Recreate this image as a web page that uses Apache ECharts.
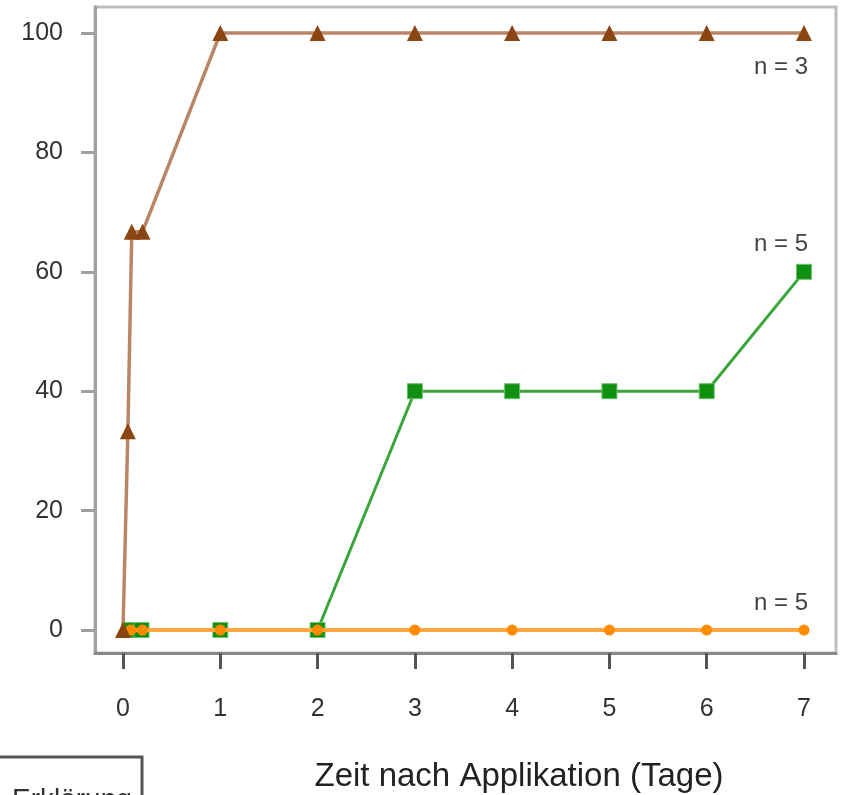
<!DOCTYPE html>
<html>
<head>
<meta charset="utf-8">
<script src="https://cdn.jsdelivr.net/npm/echarts@6/dist/echarts.min.js"></script>
<style>html,body{margin:0;padding:0;background:#fff;}#c{width:842px;height:795px;}</style>
</head>
<body>
<div id="c"></div>
<script>
// Data
const xTicks = [0, 1, 2, 3, 4, 5, 6, 7];
const yTicks = [0, 20, 40, 60, 80, 100];

const brownX = [0, 0.05, 0.09, 0.2, 1, 2, 3, 4, 5, 6, 7];
const brownY = [0, 33.3, 66.7, 66.7, 100, 100, 100, 100, 100, 100, 100];

const greenX = [0.07, 0.19, 1, 2, 3, 4, 5, 6, 7];
const greenY = [0, 0, 0, 0, 40, 40, 40, 40, 60];

const orangeX = [0.08, 0.2, 1, 2, 3, 4, 5, 6, 7];
const orangeY = [0, 0, 0, 0, 0, 0, 0, 0, 0];

const nLabels = ['n = 3', 'n = 5', 'n = 5'];
const xTitle = 'Zeit nach Applikation (Tage)';
const boxText = 'Erklärung';

const FONT = '"Liberation Sans", Arial, sans-serif';

function pairs(xs, ys, label, offset) {
  return xs.map((x, i) => {
    const item = { value: [x, ys[i]] };
    if (i === xs.length - 1) {
      item.label = {
        show: true, formatter: label, position: 'inside', offset: offset,
        color: '#444', fontSize: 24, fontFamily: FONT
      };
    }
    return item;
  });
}

const chart = echarts.init(document.getElementById('c'), null, { renderer: 'canvas' });
chart.setOption({
  animation: false,
  backgroundColor: '#fff',
  grid: {
    left: 95, right: 6, top: 7, bottom: 142,
    show: true, borderColor: '#bdbdbd', borderWidth: 3, backgroundColor: 'transparent'
  },
  xAxis: {
    type: 'value', min: -0.288, max: 7.329,
    axisLine: { show: true, onZero: false, lineStyle: { color: '#8a8a8a', width: 3 } },
    axisTick: { show: true, inside: false, length: 16, customValues: xTicks, lineStyle: { color: '#555', width: 3 } },
    axisLabel: { show: true, customValues: xTicks, margin: 44, color: '#333', fontSize: 25, fontFamily: FONT },
    splitLine: { show: false }
  },
  yAxis: {
    type: 'value', min: -3.85, max: 104.36,
    axisLine: { show: true, onZero: false, lineStyle: { color: '#a0a0a0', width: 3 } },
    axisTick: { show: true, inside: false, length: 14, customValues: yTicks, lineStyle: { color: '#a0a0a0', width: 3 } },
    axisLabel: { show: true, customValues: yTicks, margin: 32, color: '#333', fontSize: 25, fontFamily: FONT },
    splitLine: { show: false }
  },
  series: [
    {
      type: 'line', z: 2,
      data: pairs(greenX, greenY, nLabels[1], [-23, -27]),
      symbol: 'rect', symbolSize: 15,
      itemStyle: { color: '#109010', borderColor: '#6cc06c', borderWidth: 1 },
      lineStyle: { color: '#3aa53a', width: 3 }
    },
    {
      type: 'line', z: 3,
      data: pairs(orangeX, orangeY, nLabels[2], [-23, -27]),
      symbol: 'circle', symbolSize: 11,
      itemStyle: { color: '#ff8c00' },
      lineStyle: { color: '#ffa640', width: 4 }
    },
    {
      type: 'line', z: 4,
      data: pairs(brownX, brownY, nLabels[0], [-23, 34]),
      symbol: 'triangle', symbolSize: 16,
      itemStyle: { color: '#8b4513' },
      lineStyle: { color: '#a8683e', width: 3.5, opacity: 0.8 }
    }
  ],
  graphic: [
    {
      type: 'text', x: 519, y: 760,
      style: { text: xTitle, fill: '#222', font: '33px ' + FONT, align: 'center', verticalAlign: 'top' }
    },
    {
      type: 'rect', shape: { x: -3, y: 757, width: 145, height: 60 },
      style: { fill: '#fff', stroke: '#555', lineWidth: 3 }
    },
    {
      type: 'text', x: 12, y: 786,
      style: { text: boxText, fill: '#333', font: '28px ' + FONT, verticalAlign: 'top' }
    }
  ]
});
</script>
</body>
</html>
